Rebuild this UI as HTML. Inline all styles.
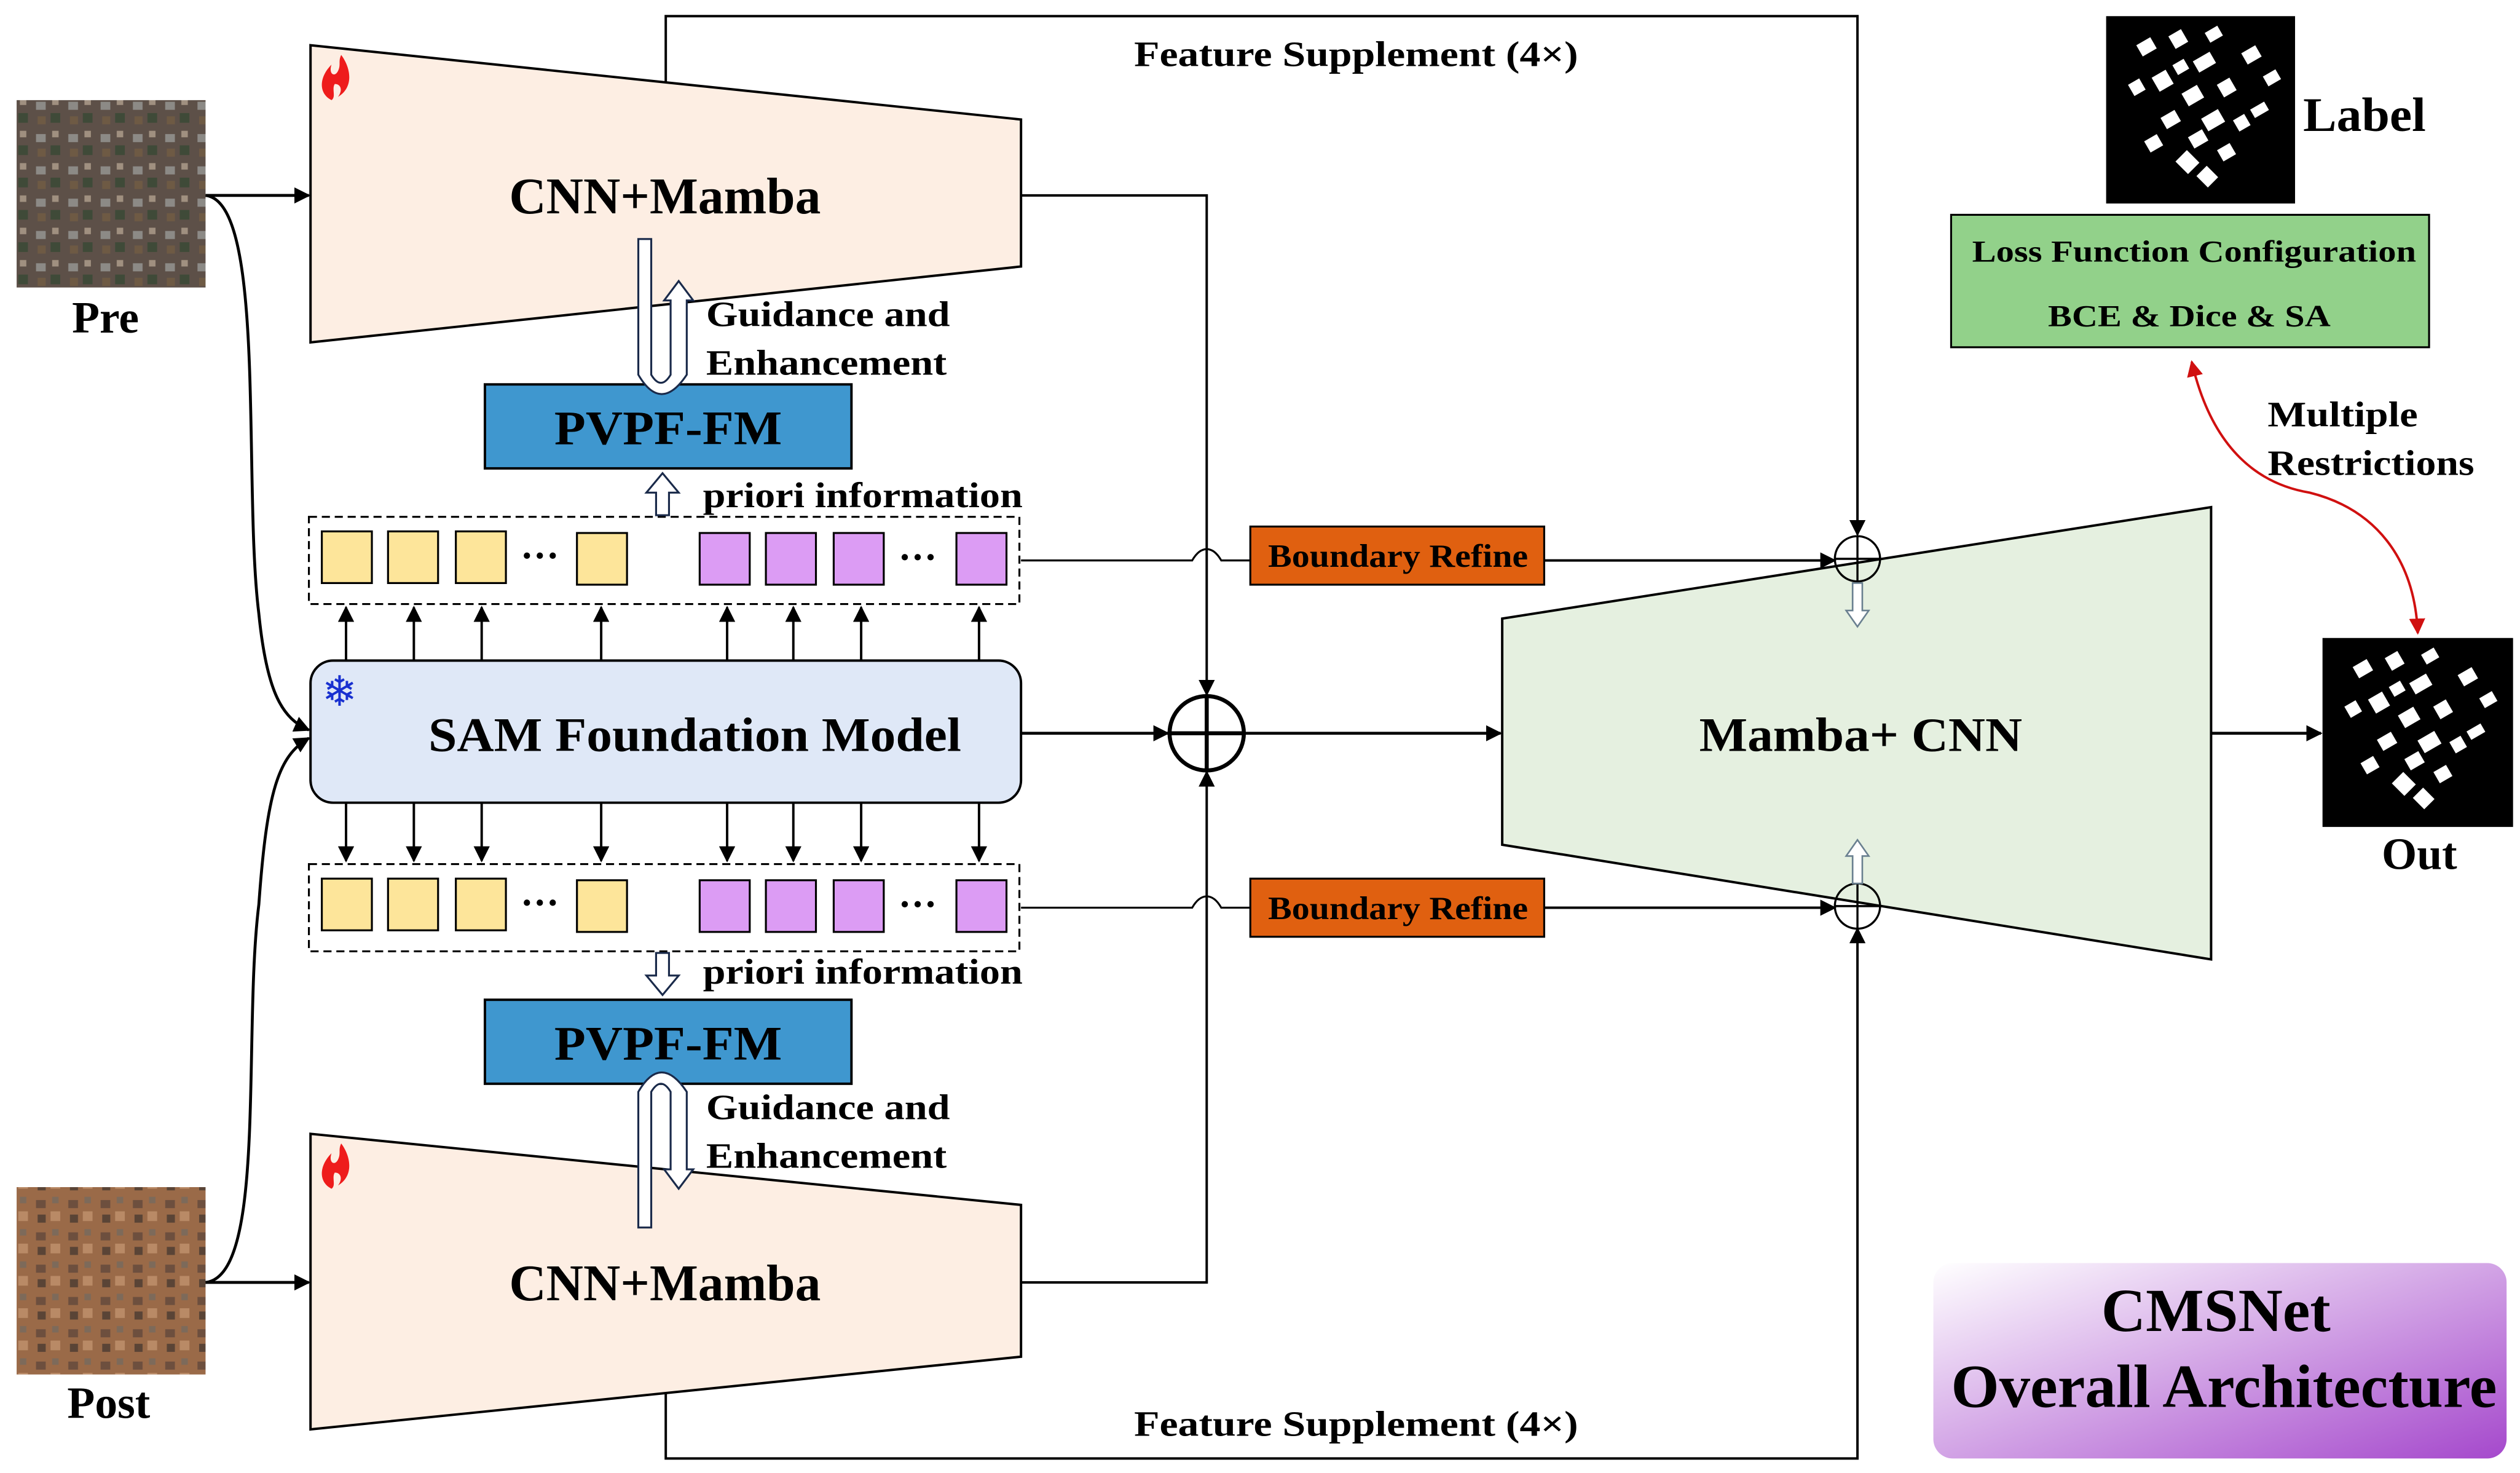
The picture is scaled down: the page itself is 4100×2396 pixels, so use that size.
<!DOCTYPE html>
<html><head><meta charset="utf-8"><style>html,body{margin:0;padding:0;background:#fff}svg{display:block}</style></head><body>
<svg width="4100" height="2396" viewBox="0 0 1560 912" xmlns="http://www.w3.org/2000/svg" font-family="'Liberation Serif',serif" font-weight="bold">
<defs>
<marker id="a" markerWidth="10" markerHeight="10" refX="9" refY="5" orient="auto" markerUnits="userSpaceOnUse"><path d="M0,0 L10,5 L0,10 z" fill="#000"/></marker>
<marker id="r" markerWidth="10" markerHeight="10" refX="9" refY="5" orient="auto" markerUnits="userSpaceOnUse"><path d="M0,0 L10,5 L0,10 z" fill="#d01010"/></marker>
<marker id="rs" markerWidth="10" markerHeight="10" refX="1" refY="5" orient="auto" markerUnits="userSpaceOnUse"><path d="M10,0 L0,5 L10,10 z" fill="#d01010"/></marker>
<linearGradient id="pg" x1="0" y1="0" x2="1" y2="1"><stop offset="0" stop-color="#ffffff"/><stop offset="1" stop-color="#a548cc"/></linearGradient>
<pattern id="pre" width="20" height="20" patternUnits="userSpaceOnUse"><rect width="20" height="20" fill="#5d5048"/><rect x="2" y="3" width="6" height="5" fill="#8c8a86"/><rect x="11" y="10" width="6" height="6" fill="#3f4a38"/><rect x="12" y="1" width="4" height="4" fill="#a09080"/><rect x="3" y="12" width="5" height="5" fill="#6e5a44"/></pattern>
<pattern id="post" width="20" height="20" patternUnits="userSpaceOnUse"><rect width="20" height="20" fill="#9a6a48"/><rect x="2" y="3" width="6" height="5" fill="#6d4f3e"/><rect x="11" y="10" width="6" height="6" fill="#b98a66"/><rect x="12" y="1" width="4" height="4" fill="#7d6a5a"/><rect x="3" y="12" width="5" height="5" fill="#5a4436"/></pattern>
<g id="bld" fill="#fff"><rect x="20" y="15" width="10" height="8" transform="rotate(-30 25 19)"/><rect x="40" y="10" width="9" height="9" transform="rotate(-30 44 14)"/><rect x="55" y="25" width="12" height="8" transform="rotate(-30 60 29)"/><rect x="30" y="35" width="10" height="10" transform="rotate(-30 35 40)"/><rect x="48" y="45" width="11" height="9" transform="rotate(-30 53 49)"/><rect x="70" y="40" width="9" height="9" transform="rotate(-30 74 44)"/><rect x="35" y="60" width="10" height="8" transform="rotate(-30 40 64)"/><rect x="60" y="60" width="12" height="9" transform="rotate(-30 66 64)"/><rect x="85" y="20" width="10" height="8" transform="rotate(-30 90 24)"/><rect x="15" y="40" width="8" height="8" transform="rotate(-30 19 44)"/><rect x="45" y="85" width="11" height="10" transform="rotate(45 50 90)"/><rect x="70" y="80" width="9" height="8" transform="rotate(-30 75 84)"/><rect x="90" y="55" width="10" height="6" transform="rotate(-30 95 58)"/><rect x="62" y="8" width="9" height="7" transform="rotate(-30 66 11)"/><rect x="42" y="28" width="8" height="7" transform="rotate(-30 46 31)"/><rect x="80" y="62" width="8" height="8" transform="rotate(-30 84 66)"/><rect x="25" y="75" width="9" height="8" transform="rotate(-30 29 79)"/><rect x="58" y="95" width="10" height="9" transform="rotate(45 63 99)"/><rect x="98" y="35" width="9" height="7" transform="rotate(-30 102 38)"/><rect x="52" y="72" width="10" height="8" transform="rotate(-30 57 76)"/></g>
</defs>
<rect width="1560" height="912" fill="#fff"/>

<rect x="10" y="62" width="117" height="116" fill="url(#pre)"/>
<text x="65" y="206" font-size="28" text-anchor="middle">Pre</text>
<rect x="10" y="735" width="117" height="116" fill="url(#post)"/>
<text x="67" y="878" font-size="28" text-anchor="middle">Post</text>

<polyline points="412,51 412,10 1150,10 1150,331" fill="none" stroke="#000" stroke-width="1.5" marker-end="url(#a)"/>
<polyline points="412,863 412,903 1150,903 1150,575" fill="none" stroke="#000" stroke-width="1.5" marker-end="url(#a)"/>
<text x="702" y="41" font-size="22" textLength="275" lengthAdjust="spacingAndGlyphs">Feature Supplement (4×)</text>
<text x="702" y="889" font-size="22" textLength="275" lengthAdjust="spacingAndGlyphs">Feature Supplement (4×)</text>

<polygon points="192,28 632,74 632,165 192,212" fill="#fdeee3" stroke="#000" stroke-width="1.5"/>
<text x="315" y="132" font-size="32" textLength="193" lengthAdjust="spacingAndGlyphs">CNN+Mamba</text>
<polygon points="192,702 632,746 632,840 192,885" fill="#fdeee3" stroke="#000" stroke-width="1.5"/>
<text x="315" y="805" font-size="32" textLength="193" lengthAdjust="spacingAndGlyphs">CNN+Mamba</text>

<g fill="#ee1c1c">
<path d="M205,62 c-8,-4 -8,-14 0,-22 c-2,6 2,8 4,4 c2,-4 0,-6 2,-10 c6,8 8,20 -2,26 c3,-4 2,-8 -2,-8 c-2,3 1,8 -2,10z"/>
<path d="M205,736 c-8,-4 -8,-14 0,-22 c-2,6 2,8 4,4 c2,-4 0,-6 2,-10 c6,8 8,20 -2,26 c3,-4 2,-8 -2,-8 c-2,3 1,8 -2,10z"/>
<path d="M1354,346 c-8,-4 -8,-14 0,-22 c-2,6 2,8 4,4 c2,-4 0,-6 2,-10 c6,8 8,20 -2,26 c3,-4 2,-8 -2,-8 c-2,3 1,8 -2,10z"/>
</g>

<polyline points="632,121 747,121 747,430" fill="none" stroke="#000" stroke-width="1.5" marker-end="url(#a)"/>
<polyline points="632,794 747,794 747,478" fill="none" stroke="#000" stroke-width="1.5" marker-end="url(#a)"/>

<path d="M127,121 C165,125 150,300 160,380 C165,430 175,445 191,452" fill="none" stroke="#000" stroke-width="1.8" marker-end="url(#a)"/>
<path d="M127,794 C165,790 150,640 160,560 C165,490 172,468 191,457" fill="none" stroke="#000" stroke-width="1.8" marker-end="url(#a)"/>
<line x1="127" y1="121" x2="191" y2="121" stroke="#000" stroke-width="1.8" marker-end="url(#a)"/>
<line x1="127" y1="794" x2="191" y2="794" stroke="#000" stroke-width="1.8" marker-end="url(#a)"/>

<rect x="192" y="409" width="440" height="88" rx="14" fill="#dfe8f7" stroke="#000" stroke-width="1.5"/>
<text x="265" y="465" font-size="30" textLength="330" lengthAdjust="spacingAndGlyphs">SAM Foundation Model</text>
<text x="210" y="437" font-size="26" fill="#1830d0" text-anchor="middle" font-family="'DejaVu Sans',sans-serif">❄</text>

<g stroke="#000" stroke-width="1.2">
<rect x="191" y="320" width="440" height="54" fill="none" stroke-dasharray="5,3"/>
<rect x="191" y="535" width="440" height="54" fill="none" stroke-dasharray="5,3"/>
<g fill="#fde59a">
<rect x="199" y="329" width="31" height="32"/><rect x="240" y="329" width="31" height="32"/><rect x="282" y="329" width="31" height="32"/><rect x="357" y="330" width="31" height="32"/>
<rect x="199" y="544" width="31" height="32"/><rect x="240" y="544" width="31" height="32"/><rect x="282" y="544" width="31" height="32"/><rect x="357" y="545" width="31" height="32"/>
</g>
<g fill="#dc9cf4">
<rect x="433" y="330" width="31" height="32"/><rect x="474" y="330" width="31" height="32"/><rect x="516" y="330" width="31" height="32"/><rect x="592" y="330" width="31" height="32"/>
<rect x="433" y="545" width="31" height="32"/><rect x="474" y="545" width="31" height="32"/><rect x="516" y="545" width="31" height="32"/><rect x="592" y="545" width="31" height="32"/>
</g>
</g>
<g font-size="24"><text x="322" y="352">···</text><text x="556" y="353">···</text><text x="322" y="567">···</text><text x="556" y="568">···</text></g>

<g stroke="#000" stroke-width="1.5">
<line x1="214" y1="409" x2="214" y2="376" marker-end="url(#a)"/><line x1="256" y1="409" x2="256" y2="376" marker-end="url(#a)"/><line x1="298" y1="409" x2="298" y2="376" marker-end="url(#a)"/><line x1="372" y1="409" x2="372" y2="376" marker-end="url(#a)"/>
<line x1="450" y1="409" x2="450" y2="376" marker-end="url(#a)"/><line x1="491" y1="409" x2="491" y2="376" marker-end="url(#a)"/><line x1="533" y1="409" x2="533" y2="376" marker-end="url(#a)"/><line x1="606" y1="409" x2="606" y2="376" marker-end="url(#a)"/>
<line x1="214" y1="497" x2="214" y2="533" marker-end="url(#a)"/><line x1="256" y1="497" x2="256" y2="533" marker-end="url(#a)"/><line x1="298" y1="497" x2="298" y2="533" marker-end="url(#a)"/><line x1="372" y1="497" x2="372" y2="533" marker-end="url(#a)"/>
<line x1="450" y1="497" x2="450" y2="533" marker-end="url(#a)"/><line x1="491" y1="497" x2="491" y2="533" marker-end="url(#a)"/><line x1="533" y1="497" x2="533" y2="533" marker-end="url(#a)"/><line x1="606" y1="497" x2="606" y2="533" marker-end="url(#a)"/>
</g>

<rect x="300" y="238" width="227" height="52" fill="#3f97cf" stroke="#000" stroke-width="1.5"/>
<text x="343" y="275" font-size="30" textLength="141" lengthAdjust="spacingAndGlyphs">PVPF-FM</text>
<rect x="300" y="619" width="227" height="52" fill="#3f97cf" stroke="#000" stroke-width="1.5"/>
<text x="343" y="656" font-size="30" textLength="141" lengthAdjust="spacingAndGlyphs">PVPF-FM</text>

<path d="M395,148 L403,148 L403,232 Q409,242 415,232 L415,186 L411,186 L420,174 L429,186 L425,186 L425,232 Q409,256 395,232 Z" fill="#fff" stroke="#1a2a4a" stroke-width="1.2"/>
<path d="M395,760 L403,760 L403,676 Q409,666 415,676 L415,724 L411,724 L420,736 L429,724 L425,724 L425,676 Q409,652 395,676 Z" fill="#fff" stroke="#1a2a4a" stroke-width="1.2"/>
<text x="437" y="202" font-size="22" textLength="151" lengthAdjust="spacingAndGlyphs">Guidance and</text>
<text x="437" y="232" font-size="22" textLength="149" lengthAdjust="spacingAndGlyphs">Enhancement</text>
<text x="437" y="693" font-size="22" textLength="151" lengthAdjust="spacingAndGlyphs">Guidance and</text>
<text x="437" y="723" font-size="22" textLength="149" lengthAdjust="spacingAndGlyphs">Enhancement</text>

<path d="M406,319 L406,305 L400,305 L410,293 L420,305 L414,305 L414,319 Z" fill="#fff" stroke="#1a2a4a" stroke-width="1.2"/>
<path d="M406,590 L406,604 L400,604 L410,616 L420,604 L414,604 L414,590 Z" fill="#fff" stroke="#1a2a4a" stroke-width="1.2"/>
<text x="435" y="314" font-size="22" textLength="198" lengthAdjust="spacingAndGlyphs">priori information</text>
<text x="435" y="609" font-size="22" textLength="198" lengthAdjust="spacingAndGlyphs">priori information</text>

<line x1="632" y1="454" x2="723" y2="454" stroke="#000" stroke-width="1.8" marker-end="url(#a)"/>
<ellipse cx="747" cy="454" rx="23" ry="23" fill="#fff" stroke="#000" stroke-width="2.5"/>
<line x1="724" y1="454" x2="770" y2="454" stroke="#000" stroke-width="2.5"/>
<line x1="747" y1="431" x2="747" y2="477" stroke="#000" stroke-width="2.5"/>
<line x1="770" y1="454" x2="929" y2="454" stroke="#000" stroke-width="1.8" marker-end="url(#a)"/>

<polygon points="930,383 1369,314 1369,594 930,523" fill="#e5f0e0" stroke="#000" stroke-width="1.5"/>
<text x="1052" y="465" font-size="30" textLength="200" lengthAdjust="spacingAndGlyphs">Mamba+ CNN</text>

<path d="M632,347 L738,347 Q742,340 747,340 Q752,340 756,347 L774,347" fill="none" stroke="#000" stroke-width="1.2"/>
<path d="M632,562 L738,562 Q742,555 747,555 Q752,555 756,562 L774,562" fill="none" stroke="#000" stroke-width="1.2"/>
<rect x="774" y="326" width="182" height="36" fill="#e06010" stroke="#000" stroke-width="1.2"/>
<text x="785" y="351" font-size="20" textLength="161" lengthAdjust="spacingAndGlyphs">Boundary Refine</text>
<rect x="774" y="544" width="182" height="36" fill="#e06010" stroke="#000" stroke-width="1.2"/>
<text x="785" y="569" font-size="20" textLength="161" lengthAdjust="spacingAndGlyphs">Boundary Refine</text>
<line x1="956" y1="347" x2="1136" y2="347" stroke="#000" stroke-width="1.5" marker-end="url(#a)"/>
<line x1="956" y1="562" x2="1136" y2="562" stroke="#000" stroke-width="1.5" marker-end="url(#a)"/>
<g fill="none" stroke="#000" stroke-width="1.3">
<ellipse cx="1150" cy="346" rx="14" ry="14"/><line x1="1136" y1="346" x2="1164" y2="346"/><line x1="1150" y1="332" x2="1150" y2="360"/>
<ellipse cx="1150" cy="561" rx="14" ry="14"/><line x1="1136" y1="561" x2="1164" y2="561"/><line x1="1150" y1="547" x2="1150" y2="575"/>
</g>
<path d="M1147,361 L1153,361 L1153,378 L1157,378 L1150,388 L1143,378 L1147,378 Z" fill="#fff" stroke="#6a8090" stroke-width="1"/>
<path d="M1147,547 L1153,547 L1153,530 L1157,530 L1150,520 L1143,530 L1147,530 Z" fill="#fff" stroke="#6a8090" stroke-width="1"/>

<line x1="1369" y1="454" x2="1437" y2="454" stroke="#000" stroke-width="1.8" marker-end="url(#a)"/>
<rect x="1438" y="395" width="118" height="117" fill="#000"/>
<use href="#bld" x="1438" y="395"/>
<text x="1498" y="538" font-size="28" text-anchor="middle">Out</text>
<rect x="1304" y="10" width="117" height="116" fill="#000"/>
<use href="#bld" x="1304" y="10"/>
<text x="1426" y="81" font-size="30" textLength="76" lengthAdjust="spacingAndGlyphs">Label</text>

<rect x="1208" y="133" width="296" height="82" fill="#92d18a" stroke="#000" stroke-width="1.2"/>
<text x="1221" y="162" font-size="19" textLength="275" lengthAdjust="spacingAndGlyphs">Loss Function Configuration</text>
<text x="1268" y="202" font-size="19" textLength="175" lengthAdjust="spacingAndGlyphs">BCE &amp; Dice &amp; SA</text>
<path d="M1357,224 C1370,280 1400,300 1430,305 C1470,315 1495,345 1497,392" fill="none" stroke="#d01010" stroke-width="1.5" marker-start="url(#rs)" marker-end="url(#r)"/>
<text x="1404" y="264" font-size="22" textLength="93" lengthAdjust="spacingAndGlyphs">Multiple</text>
<text x="1404" y="294" font-size="22" textLength="128" lengthAdjust="spacingAndGlyphs">Restrictions</text>

<rect x="1197" y="782" width="355" height="121" rx="12" fill="url(#pg)"/>
<text x="1301" y="824" font-size="38" textLength="142" lengthAdjust="spacingAndGlyphs">CMSNet</text>
<text x="1208" y="871" font-size="38" textLength="338" lengthAdjust="spacingAndGlyphs">Overall Architecture</text>
</svg>
</body></html>
